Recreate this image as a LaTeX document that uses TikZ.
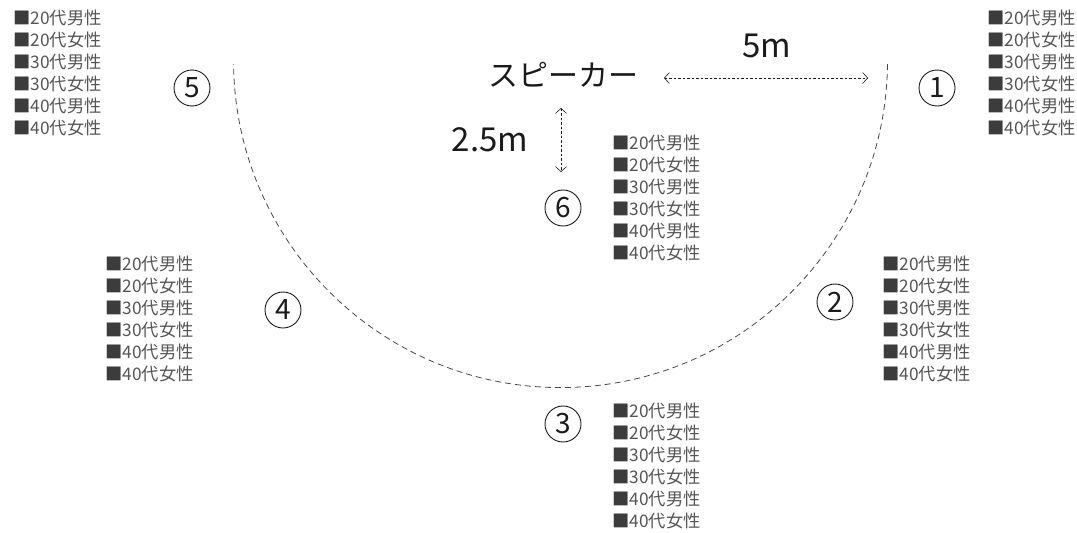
\documentclass[tikz,border=0pt]{standalone}
\usepackage{fontspec}
\setmainfont{Noto Sans CJK JP}
\usetikzlibrary{arrows.meta,calc}
\definecolor{listgray}{HTML}{555555}
\definecolor{sqgray}{HTML}{3C3C3C}
\definecolor{ink}{HTML}{1A1A1A}
\newcommand\sqm{{\color{sqgray}■}}
\newcommand\agelist{\sqm20代男性\\\sqm20代女性\\\sqm30代男性\\\sqm30代女性\\\sqm40代男性\\\sqm40代女性}
\begin{document}
\begin{tikzpicture}[x=1pt,y=-1pt,
  grp/.style={anchor=north west, align=left, inner sep=0pt, text=listgray, font=\fontsize{17.3}{22}\selectfont},
  num/.style={circle, draw=ink, line width=0.9pt, minimum size=36pt, inner sep=0pt, text=ink, font=\fontsize{28}{28}\selectfont},
  lbl/.style={inner sep=0pt, text=ink},
  dimline/.style={draw=ink, line width=0.6pt, dash pattern=on 2.5pt off 2pt, {Straight Barb[length=5pt,width=11pt]}-{Straight Barb[length=5pt,width=11pt]}},
  seat/.style={draw=ink!80, line width=0.8pt, dash pattern=on 6pt off 4pt}
]
\useasboundingbox (0,0) rectangle (1077,533);
% seating arc
\coordinate (arcR) at (887.5,64);
\draw[seat] (arcR) arc[start angle=-0.6, end angle=-179.4, radius=327pt];
% labels
\node[lbl, font=\fontsize{30}{30}\selectfont] (spk) at (563,75) {スピーカー};
\node[lbl, font=\fontsize{33}{33}\selectfont] (five) at (767,46) {5m};
\node[lbl, font=\fontsize{33}{33}\selectfont] (twofive) at (490,140) {2.5m};
% dimension arrows
\coordinate (hL) at (664,78);
\coordinate (hR) at (868,78);
\draw[dimline] (hL) -- (hR);
\coordinate (vT) at (561,108);
\coordinate (vB) at (561,172);
\draw[dimline] (vT) -- (vB);
% circled numbers
\node[num] (n1) at (937,88) {1};
\node[num] (n2) at (835,302) {2};
\node[num] (n3) at (563,424) {3};
\node[num] (n4) at (283,310) {4};
\node[num] (n5) at (192,88) {5};
\node[num] (n6) at (563,208) {6};
% lists
\node[grp] (g5) at (13,10) {\agelist};
\node[grp] (g1) at (987,10) {\agelist};
\node[grp] (g6) at (612,135) {\agelist};
\node[grp] (g4) at (105,256) {\agelist};
\node[grp] (g2) at (882,256) {\agelist};
\node[grp] (g3) at (612,403) {\agelist};
\end{tikzpicture}
\end{document}
